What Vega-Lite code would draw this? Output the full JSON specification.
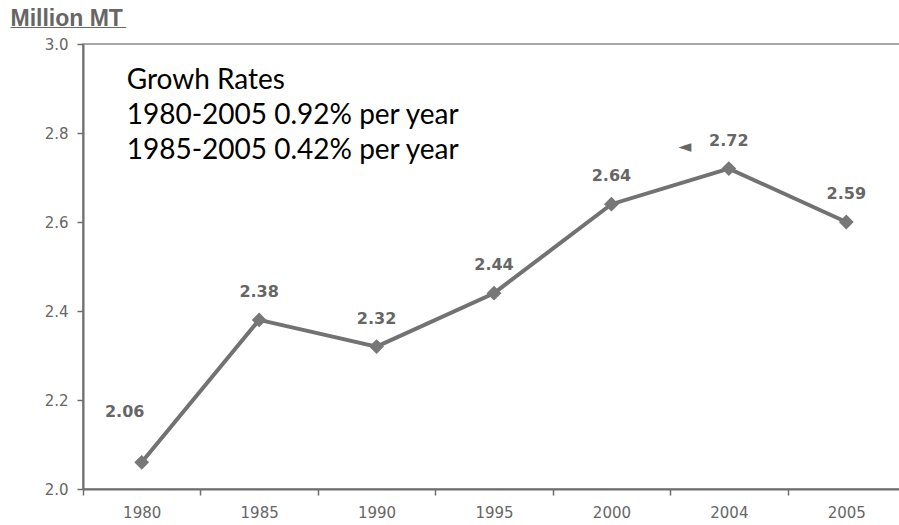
{
  "$schema": "https://vega.github.io/schema/vega-lite/v6.json",
  "width": 822,
  "height": 445,
  "autosize": "none",
  "padding": {"left": 83, "top": 44, "right": 0, "bottom": 36},
  "background": "white",
  "config": {"view": {"stroke": "#8a8a8a", "strokeWidth": 1.5}},
  "datasets": {
    "series": [
      {"year": "1980", "value": 2.06, "label": "2.06"},
      {"year": "1985", "value": 2.38, "label": "2.38"},
      {"year": "1990", "value": 2.32, "label": "2.32"},
      {"year": "1995", "value": 2.44, "label": "2.44"},
      {"year": "2000", "value": 2.64, "label": "2.64"},
      {"year": "2004", "value": 2.72, "label": "2.72"},
      {"year": "2005", "value": 2.6, "label": "2.59"}
    ],
    "notes": [
      {"note": ["Growh Rates", "1980-2005 0.92% per year", "1985-2005 0.42% per year"], "underline": "_________"}
    ]
  },
  "data": {"name": "series"},
  "layer": [
    {
      "mark": {"type": "line", "color": "#727272", "strokeWidth": 4},
      "encoding": {
        "x": {
          "field": "year", "type": "ordinal",
          "scale": {"type": "band", "paddingInner": 0, "paddingOuter": 0},
          "axis": {
            "title": null, "labelAngle": 0, "tickBand": "extent",
            "domainColor": "#6e6e6e", "domainWidth": 2,
            "tickColor": "#6e6e6e", "tickWidth": 1.5, "tickSize": 6,
            "labelPadding": 10, "labelFont": "DejaVu Sans", "labelFontSize": 15,
            "labelColor": "#666666", "grid": false
          }
        },
        "y": {
          "field": "value", "type": "quantitative",
          "scale": {"domain": [2, 3], "nice": false, "zero": false},
          "axis": {
            "values": [2, 2.2, 2.4, 2.6, 2.8, 3],
            "format": ".1f", "grid": false,
            "domainColor": "#6e6e6e", "domainWidth": 2,
            "tickColor": "#6e6e6e", "tickWidth": 1.5, "tickSize": 6,
            "labelPadding": 9, "labelFont": "DejaVu Sans", "labelFontSize": 15,
            "labelColor": "#666666",
            "title": "Million MT",
            "titleAngle": 0, "titleAlign": "left", "titleBaseline": "alphabetic",
            "titleX": -73, "titleY": -19,
            "titleFont": "Liberation Sans", "titleFontSize": 23, "titleFontWeight": "bold",
            "titleColor": "#666666"
          }
        }
      }
    },
    {
      "mark": {"type": "point", "shape": "diamond", "filled": true, "size": 220, "color": "#777777", "opacity": 1},
      "encoding": {"x": {"field": "year", "type": "ordinal"}, "y": {"field": "value", "type": "quantitative"}}
    },
    {
      "transform": [{"filter": "datum.year != '1980'"}],
      "mark": {"type": "text", "dy": -28, "font": "DejaVu Sans", "fontSize": 16, "fontWeight": "bold", "color": "#666666"},
      "encoding": {"x": {"field": "year", "type": "ordinal"}, "y": {"field": "value", "type": "quantitative"}, "text": {"field": "label"}}
    },
    {
      "transform": [{"filter": "datum.year == '1980'"}],
      "mark": {"type": "text", "dx": -17, "dy": -50, "font": "DejaVu Sans", "fontSize": 16, "fontWeight": "bold", "color": "#666666"},
      "encoding": {"x": {"field": "year", "type": "ordinal"}, "y": {"field": "value", "type": "quantitative"}, "text": {"field": "label"}}
    },
    {
      "transform": [{"filter": "datum.year == '2004'"}],
      "mark": {"type": "text", "text": "◄", "dx": -44, "dy": -22, "font": "DejaVu Sans", "fontSize": 17, "color": "#666666"},
      "encoding": {"x": {"field": "year", "type": "ordinal"}, "y": {"field": "value", "type": "quantitative"}}
    },
    {
      "data": {"name": "notes"},
      "mark": {
        "type": "text", "align": "left", "baseline": "alphabetic",
        "dx": -15, "dy": 45, "font": "Lato", "fontSize": 28, "lineHeight": 35, "color": "#000000"
      },
      "encoding": {
        "x": {"datum": "1980", "type": "ordinal"},
        "y": {"datum": 3, "type": "quantitative"},
        "text": {"field": "note"}
      }
    },
    {
      "data": {"name": "notes"},
      "mark": {
        "type": "text", "align": "left", "baseline": "alphabetic",
        "dx": -131, "dy": -19, "font": "Liberation Sans", "fontSize": 23, "fontWeight": "bold", "color": "#666666"
      },
      "encoding": {
        "x": {"datum": "1980", "type": "ordinal"},
        "y": {"datum": 3, "type": "quantitative"},
        "text": {"field": "underline"}
      }
    }
  ]
}
